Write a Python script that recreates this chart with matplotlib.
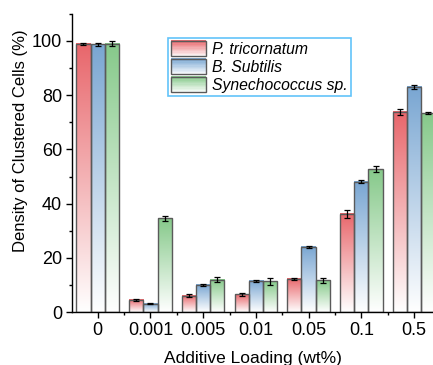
import numpy as np
import matplotlib
matplotlib.use("Agg")
import matplotlib.pyplot as plt
from matplotlib.patches import Rectangle
from matplotlib.legend_handler import HandlerBase
from matplotlib.colors import to_rgb
from matplotlib.ticker import MultipleLocator

plt.rcParams['font.family'] = ['Liberation Sans', 'DejaVu Sans']

categories = ["0", "0.001", "0.005", "0.01", "0.05", "0.1", "0.5"]
series = ["P. tricornatum", "B. Subtilis", "Synechococcus sp."]
p_tri = [99.0, 4.5, 6.0, 6.5, 12.3, 36.2, 73.8]
p_tri_err = [0.3, 0.5, 0.5, 0.7, 0.4, 1.5, 1.0]
b_sub = [98.8, 3.0, 10.0, 11.5, 24.0, 48.1, 83.1]
b_sub_err = [0.5, 0.2, 0.5, 0.5, 0.3, 0.6, 0.8]
syn = [99.0, 34.6, 12.0, 11.3, 11.7, 52.7, 73.4]
syn_err = [1.0, 1.0, 0.8, 1.2, 1.0, 1.0, 0.4]
colors = ["#E8666B", "#79A6D2", "#86C98A"]

values = [p_tri, b_sub, syn]
errs = [p_tri_err, b_sub_err, syn_err]

fig = plt.figure(figsize=(4.33, 3.65), dpi=100)
ax = fig.add_axes([0.166, 0.145, 0.834, 0.817])

x = np.arange(len(categories))
w = 0.27
edge = "#5a5a5a"

def gradient(c, n=256):
    c = np.array(to_rgb(c))
    t = np.linspace(0, 1, n)[:, None]
    return (1 - t) * np.ones(3) + t * c  # bottom white -> top color

for i, (vals, er, c) in enumerate(zip(values, errs, colors)):
    xs = x + (i - 1) * w
    grad = gradient(c)[:, None, :]
    for xi, v in zip(xs, vals):
        ax.imshow(grad, extent=[xi - w / 2, xi + w / 2, 0, v], origin="lower",
                  aspect="auto", zorder=1, interpolation="bilinear")
    ax.bar(xs, vals, width=w, facecolor="none", edgecolor=edge, linewidth=1.0, zorder=2)
    ax.errorbar(xs, vals, yerr=er, fmt="none", ecolor="black", elinewidth=0.9,
                capsize=2.5, capthick=0.9, zorder=3)

ax.set_xlim(-0.49, 6.36)
ax.set_ylim(0, 110)
ax.set_xticks(x)
ax.set_xticklabels(categories)
ax.set_xticks(x[:-1] + 0.5, minor=True)
ax.yaxis.set_minor_locator(MultipleLocator(10))
ax.set_yticks([0, 20, 40, 60, 80, 100])
ax.tick_params(axis="both", which="major", direction="out", length=4, width=1,
               labelsize=13, pad=3)
ax.tick_params(axis="both", which="minor", direction="out", length=2.5, width=1)
for s in ["top", "right"]:
    ax.spines[s].set_visible(False)
for s in ["left", "bottom"]:
    ax.spines[s].set_linewidth(1.0)
ax.set_xlabel("Additive Loading (wt%)", fontsize=12.5)
ax.set_ylabel("Density of Clustered Cells (%)", fontsize=12)
ax.xaxis.set_label_coords(0.5, -0.13)
ax.yaxis.set_label_coords(-0.122, 0.575)


class GradHandler(HandlerBase):
    def __init__(self, color, **kw):
        super().__init__(**kw)
        self.color = color

    def create_artists(self, legend, orig_handle, xdescent, ydescent, width,
                       height, fontsize, trans):
        n = 12
        arts = []
        c = np.array(to_rgb(self.color))
        for k in range(n):
            t = (k + 0.5) / n
            col = (1 - t) * np.ones(3) + t * c
            r = Rectangle((-xdescent, -ydescent + height * k / n), width, height / n + 0.3,
                          facecolor=col, edgecolor="none", transform=trans)
            arts.append(r)
        arts.append(Rectangle((-xdescent, -ydescent), width, height, facecolor="none",
                              edgecolor=edge, linewidth=1.0, transform=trans))
        return arts


handles = [Rectangle((0, 0), 1, 1) for _ in series]
leg = ax.legend(handles, series, loc="upper left", bbox_to_anchor=(0.266, 0.92),
                borderaxespad=0, fancybox=False, framealpha=1,
                handler_map={h: GradHandler(c) for h, c in zip(handles, colors)},
                prop={"style": "italic", "size": 11.3}, handlelength=2.2, handleheight=1.15,
                handletextpad=0.4, labelspacing=0.12, borderpad=0.2)
leg.get_frame().set_edgecolor("#62C4FA")
leg.get_frame().set_linewidth(1.2)

fig.savefig("out.png", dpi=100)
